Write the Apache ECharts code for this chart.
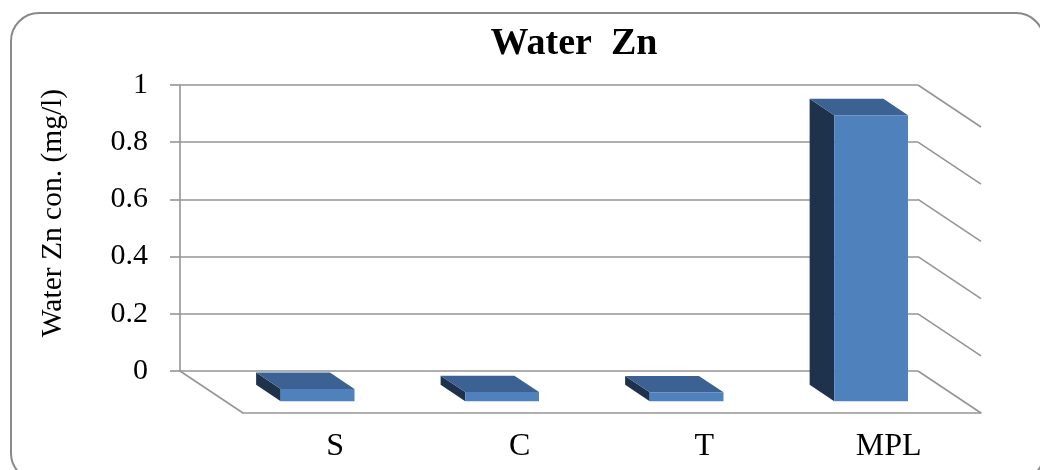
<!DOCTYPE html>
<html>
<head>
<meta charset="utf-8">
<script src="https://cdn.jsdelivr.net/npm/echarts@6/dist/echarts.min.js"></script>
<style>
  html, body { margin: 0; padding: 0; background: #fff; }
  #chart { width: 1040px; height: 470px; }
</style>
</head>
<body>
<div id="chart"></div>
<script>
// Zinc concentration in water, per site, against the maximum permissible limit
const categories = ['S', 'C', 'T', 'MPL'];
const zincValues = [0.043, 0.032, 0.031, 1.0];
const valueTicks = [0, 0.2, 0.4, 0.6, 0.8, 1];

// Oblique projection: offset in px from the back wall to the front edge of the floor
const DEPTH = [63, 42];
const BAR_BACK = 0.33;   // bar back face, as a fraction of the depth
const BAR_FRONT = 0.72;  // bar front face
const BAR_HALF = 0.2;    // half bar width, as a fraction of the category band

const SERIF = '"Liberation Serif", "Times New Roman", serif';
const GRID_GREY = '#959595';

const chart = echarts.init(document.getElementById('chart'), null, { renderer: 'canvas' });

function renderWall(params, api) {
  const v = api.value(0);
  const cs = params.coordSys;
  const p = api.coord([0, v]);
  const y = p[1];
  const right = cs.x + cs.width;
  const style = { stroke: GRID_GREY, lineWidth: 1.6 };
  const children = [{
    type: 'line',
    shape: { x1: right, y1: y, x2: right + DEPTH[0], y2: y + DEPTH[1] },
    style: style
  }];
  if (v === 0) {
    children.push({
      type: 'line',
      shape: { x1: cs.x, y1: y, x2: cs.x + DEPTH[0], y2: y + DEPTH[1] },
      style: style
    });
  }
  return { type: 'group', children: children };
}

function renderBar(params, api) {
  const idx = api.value(0);
  const val = api.value(1);
  const top = api.coord([idx, val]);
  const base = api.coord([idx, 0]);
  const band = api.size([1, 0])[0];
  const half = band * BAR_HALF;
  const bx = DEPTH[0] * BAR_BACK, by = DEPTH[1] * BAR_BACK;
  const fx = DEPTH[0] * BAR_FRONT, fy = DEPTH[1] * BAR_FRONT;
  const xl = top[0] - half, xr = top[0] + half;
  const yt = top[1], yb = base[1];

  const side = [
    [xl + bx, yt + by], [xl + bx, yb + by],
    [xl + fx, yb + fy], [xl + fx, yt + fy]
  ];
  const lid = [
    [xl + bx, yt + by], [xr + bx, yt + by],
    [xr + fx, yt + fy], [xl + fx, yt + fy]
  ];
  return {
    type: 'group',
    children: [
      { type: 'polygon', shape: { points: side }, style: { fill: '#1f324c' } },
      { type: 'polygon', shape: { points: lid }, style: { fill: '#3b6292' } },
      {
        type: 'rect',
        shape: { x: xl + fx, y: yt + fy, width: xr - xl, height: yb - yt },
        style: { fill: '#4f81bd' }
      }
    ]
  };
}

const option = {
  backgroundColor: '#fff',
  animation: false,
  graphic: [
    {
      type: 'rect',
      shape: { x: 11, y: 13, width: 1033, height: 468, r: 28 },
      style: { fill: 'none', stroke: '#8a8a8a', lineWidth: 2 },
      silent: true
    },
    {
      type: 'text',
      x: 574, y: 44,
      style: {
        text: 'Water  Zn', font: 'bold 38px ' + SERIF,
        fill: '#000', align: 'center', verticalAlign: 'middle'
      }
    },
    {
      type: 'text',
      x: 53, y: 213, rotation: Math.PI / 2,
      style: {
        text: 'Water Zn con. (mg/l)', font: '29.5px ' + SERIF,
        fill: '#000', align: 'center', verticalAlign: 'middle'
      }
    }
  ],
  grid: [
    { left: 180, top: 85, width: 738, height: 286 },
    { left: 243, top: 127, width: 738, height: 286 }
  ],
  xAxis: [
    { gridIndex: 0, type: 'category', data: categories, show: false },
    {
      gridIndex: 1, type: 'category', data: categories,
      axisLine: { lineStyle: { color: GRID_GREY, width: 1.6 } },
      axisTick: { length: 8, lineStyle: { color: GRID_GREY, width: 1.6 } },
      axisLabel: { color: '#000', fontFamily: SERIF, fontSize: 32, margin: 18 },
      splitLine: { show: false }
    }
  ],
  yAxis: [
    {
      gridIndex: 0, type: 'value', min: 0, max: 1, interval: 0.2,
      axisLine: { show: true, lineStyle: { color: GRID_GREY, width: 1.6 } },
      axisTick: { show: true, length: 10, lineStyle: { color: GRID_GREY, width: 1.6 } },
      axisLabel: { color: '#000', fontFamily: SERIF, fontSize: 30, margin: 32 },
      splitLine: { lineStyle: { color: GRID_GREY, width: 1.6 } }
    },
    { gridIndex: 1, type: 'value', min: 0, max: 1, show: false }
  ],
  series: [
    {
      type: 'custom', name: 'wall',
      xAxisIndex: 0, yAxisIndex: 0,
      data: valueTicks.map(v => [v]),
      encode: { y: 0 },
      renderItem: renderWall,
      silent: true, z: 1
    },
    {
      type: 'custom', name: 'Water Zn',
      xAxisIndex: 0, yAxisIndex: 0,
      data: categories.map((c, i) => [i, zincValues[i]]),
      encode: { x: 0, y: 1 },
      renderItem: renderBar,
      z: 3
    }
  ]
};

chart.setOption(option);
</script>
</body>
</html>
